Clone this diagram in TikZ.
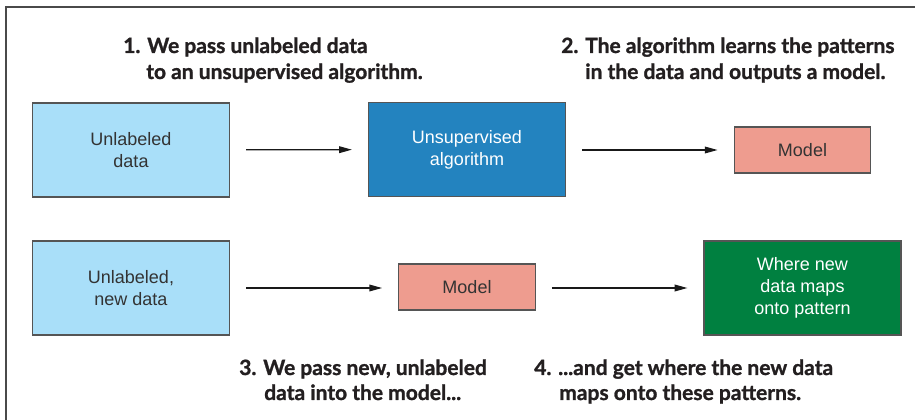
\documentclass[tikz,border=0pt]{standalone}
\usepackage{fontspec}
\setmainfont{Liberation Sans}
\newfontfamily\headfont{Lato}[UprightFont=* Bold, UprightFeatures={FakeBold=1.2}]
\usetikzlibrary{arrows.meta}

\definecolor{framegray}{HTML}{4A4A4A}
\definecolor{boxedge}{HTML}{555555}
\definecolor{inkdark}{HTML}{231F20}
\definecolor{paleblue}{HTML}{A9DFF9}
\definecolor{deepblue}{HTML}{2383BF}
\definecolor{salmon}{HTML}{EE9C8F}
\definecolor{forest}{HTML}{008040}

\tikzset{
  box/.style={draw=boxedge, line width=0.9pt, inner sep=0pt, align=center,
    font=\fontsize{13.5}{16.5}\selectfont, text=black!80},
  bigbox/.style={box, minimum width=147.75pt, minimum height=70.5pt},
  modelbox/.style={box, fill=salmon, minimum width=102.5pt, minimum height=34.5pt},
  flow/.style={-{Triangle[length=9.5pt,width=5pt]}, line width=0.9pt, black!90,
    shorten <=12pt, shorten >=12pt},
  caption/.style={anchor=base west, inner sep=0pt, text=inkdark,
    font=\headfont\fontsize{15.75}{19.5}\selectfont},
}

\begin{document}
\begin{tikzpicture}[x=0.75pt, y=-0.75pt]
  \useasboundingbox (0,0) rectangle (915,420);
  % outer frame (left and top edges)
  \draw[framegray, line width=1.1pt] (6,420) -- (6,7) -- (915,7);

  % top row: training
  \node[bigbox, fill=paleblue] (raw) at (131,150) {Unlabeled\\data};
  \node[bigbox, fill=deepblue, text=white] (algo) at (467,149.5) {Unsupervised\\algorithm};
  \node[modelbox] (model) at (802.5,150) {Model};
  \draw[flow] (raw) -- (algo);
  \draw[flow] (algo.east |- model) -- (model);

  % bottom row: applying the model
  \node[bigbox, fill=paleblue] (fresh) at (131,288) {Unlabeled,\\new data};
  \node[modelbox] (model2) at (467,287) {Model};
  \node[bigbox, fill=forest, text=white] (result) at (802.5,288) {Where new\\data maps\\onto pattern};
  \draw[flow] (fresh.east) -- (fresh.east -| model2.west);
  \draw[flow] (model2.east |- result) -- (result);

  % step captions
  \node[caption] (c1a) at (123,53) {1. We pass unlabeled data};
  \node[caption] (c1b) at (146,79) {to an unsupervised algorithm.};
  \node[caption] (c2a) at (561,53) {2. The algorithm learns the patterns};
  \node[caption] (c2b) at (585,79) {in the data and outputs a model.};
  \node[caption] (c3a) at (239,375) {3. We pass new, unlabeled};
  \node[caption] (c3b) at (264,400) {data into the model...};
  \node[caption] (c4a) at (534,375) {4. ...and get where the new data};
  \node[caption] (c4b) at (559,400) {maps onto these patterns.};
\end{tikzpicture}
\end{document}
